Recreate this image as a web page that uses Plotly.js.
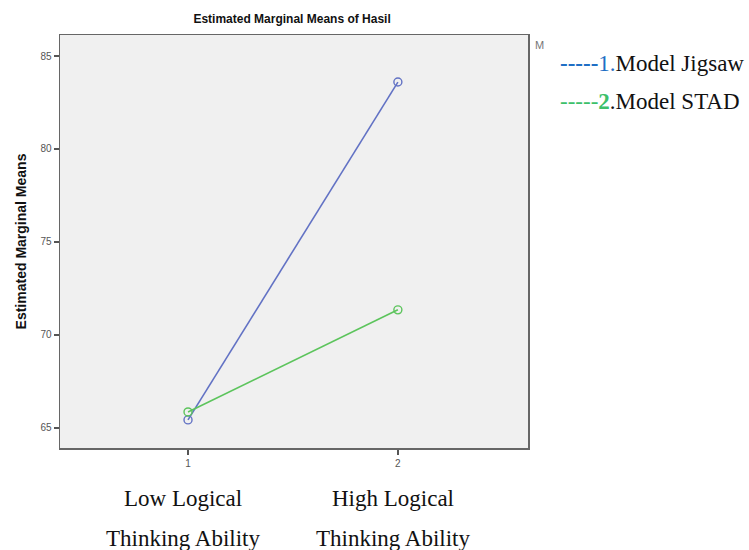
<!DOCTYPE html>
<html>
<head>
<meta charset="utf-8">
<script src="https://cdn.plot.ly/plotly-3.0.1.min.js"></script>
<style>html,body{margin:0;padding:0;background:#fff;}</style>
</head>
<body>
<div id="chart" style="width:749px;height:550px;"></div>
<script>
const xLevels = [1, 2];
const categoryLine1 = ["Low Logical", "High Logical"];
const categoryLine2 = ["Thinking Ability", "Thinking Ability"];
const jigsawMeans = [65.43, 83.6];
const stadMeans = [65.86, 71.35];
const seriesNames = ["1.Model Jigsaw", "2.Model STAD"];
const yTicks = [65, 70, 75, 80, 85];

const traces = [
  {x: xLevels, y: jigsawMeans, name: seriesNames[0], mode: "lines+markers",
   line: {color: "#6272c4", width: 1.6},
   marker: {symbol: "circle-open", size: 8, color: "#6272c4", line: {width: 1.4}}},
  {x: xLevels, y: stadMeans, name: seriesNames[1], mode: "lines+markers",
   line: {color: "#5cc45c", width: 1.6},
   marker: {symbol: "circle-open", size: 8, color: "#5cc45c", line: {width: 1.4}}}
];

const serif = {family: "Liberation Serif, Times New Roman, serif", size: 23, color: "#111"};
const annotations = [];
xLevels.forEach((xv, i) => {
  annotations.push({x: xv, y: 0, xref: "x", yref: "paper", xshift: -5, yshift: -50, yanchor: "middle",
    text: categoryLine1[i], showarrow: false, font: serif});
  annotations.push({x: xv, y: 0, xref: "x", yref: "paper", xshift: -5, yshift: -90, yanchor: "middle",
    text: categoryLine2[i], showarrow: false, font: serif});
});
annotations.push({
  x: 1, xref: "paper", xshift: 30, y: 1, yref: "paper", yshift: -28, xanchor: "left", yanchor: "middle",
  text: '<span style="color:#1f6fc5"><b>-----</b>1.</span>Model Jigsaw', showarrow: false, font: serif
});
annotations.push({
  x: 1, xref: "paper", xshift: 30, y: 1, yref: "paper", yshift: -66, xanchor: "left", yanchor: "middle",
  text: '<span style="color:#3cc06a">-----<b>2</b></span>.Model STAD', showarrow: false, font: serif
});
annotations.push({
  x: 1, xref: "paper", xshift: 5, y: 1, yref: "paper", yshift: -10, xanchor: "left", yanchor: "middle",
  text: "M", showarrow: false, font: {family: "Liberation Sans, Arial", size: 11, color: "#777"}
});

const layout = {
  width: 749, height: 550,
  margin: {l: 60, r: 221, t: 35, b: 102},
  paper_bgcolor: "#ffffff", plot_bgcolor: "#f0f0f0",
  showlegend: false,
  title: {text: "<b>Estimated Marginal Means of Hasil</b>", x: 0.39, xanchor: "center", y: 0.965, yanchor: "middle",
          font: {family: "Liberation Sans, Arial", size: 12, color: "#111"}},
  xaxis: {range: [0.39, 2.62], tickvals: xLevels, ticktext: ["1", "2"], ticks: "outside", ticklen: 5,
          tickcolor: "#555", tickwidth: 1.5, showgrid: false, zeroline: false, showline: true, linecolor: "#666",
          linewidth: 1.5, mirror: true, tickfont: {family: "Liberation Sans, Arial", size: 10, color: "#555"}},
  yaxis: {range: [63.92, 86.13], tickvals: yTicks, ticks: "outside", ticklen: 5, tickcolor: "#555", tickwidth: 1.5,
          showgrid: false, zeroline: false, showline: true, linecolor: "#666", linewidth: 1.5, mirror: true,
          tickfont: {family: "Liberation Sans, Arial", size: 10, color: "#555"},
          title: {text: "<b>Estimated Marginal Means</b>", standoff: 10,
                  font: {family: "Liberation Sans, Arial", size: 14, color: "#111"}}},
  annotations: annotations
};

Plotly.newPlot("chart", traces, layout, {displayModeBar: false, staticPlot: true});
</script>
</body>
</html>
